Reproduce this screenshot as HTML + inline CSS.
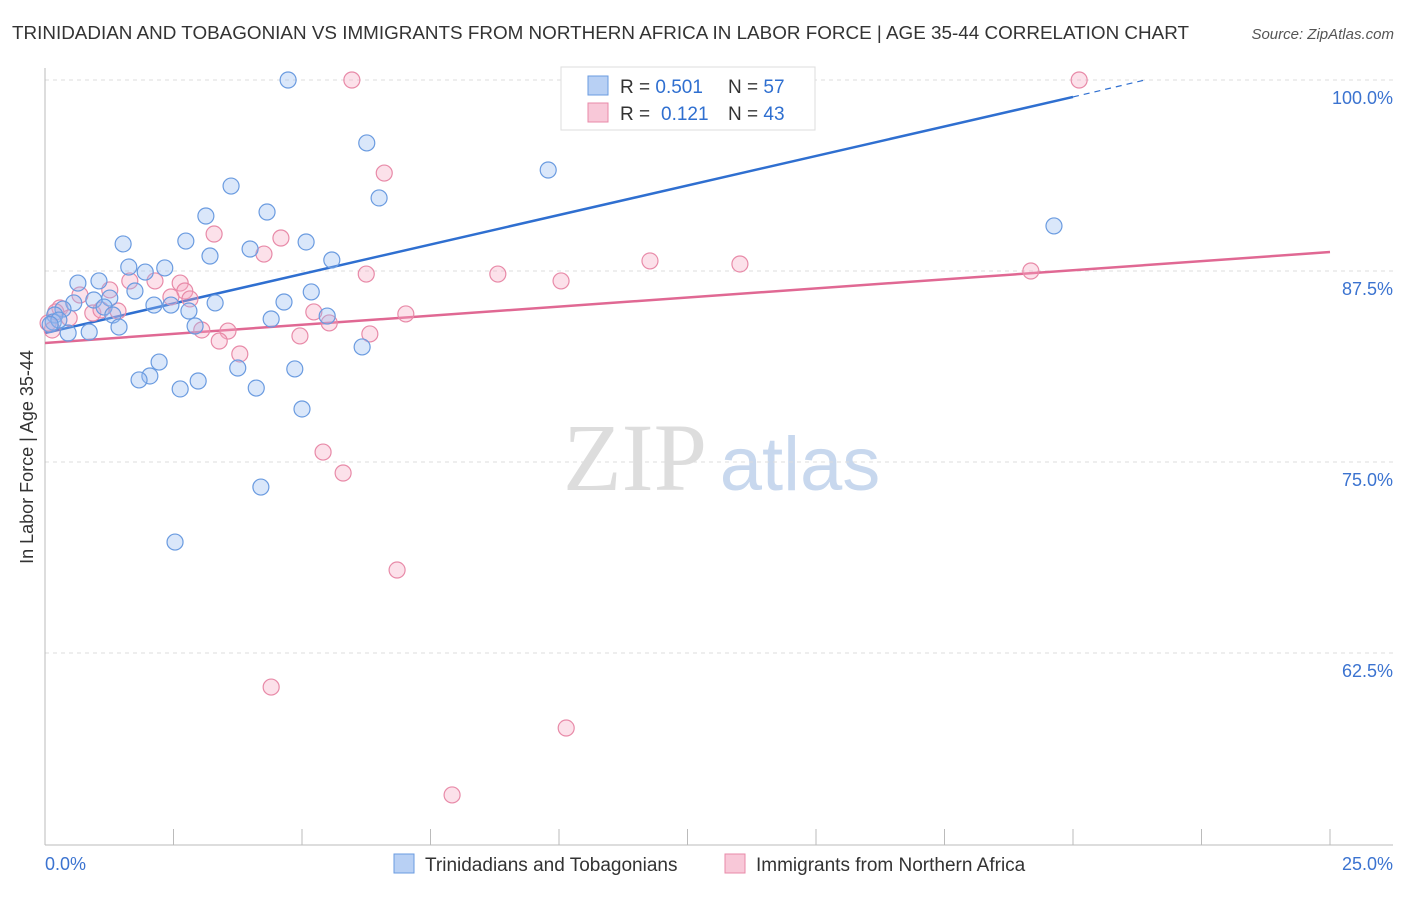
<!DOCTYPE html>
<html><head><meta charset="utf-8"><style>
body{margin:0;background:#fff;font-family:"Liberation Sans",sans-serif;}
</style></head><body>
<svg id="chart" width="1406" height="892" xmlns="http://www.w3.org/2000/svg">
<text x="12" y="39" font-size="18" fill="#333" textLength="1177" lengthAdjust="spacingAndGlyphs">TRINIDADIAN AND TOBAGONIAN VS IMMIGRANTS FROM NORTHERN AFRICA IN LABOR FORCE | AGE 35-44 CORRELATION CHART</text>
<text x="1394" y="39" font-size="15" fill="#555" font-style="italic" text-anchor="end">Source: ZipAtlas.com</text>
<text x="33" y="457" font-size="18" fill="#333" text-anchor="middle" transform="rotate(-90 33 457)">In Labor Force | Age 35-44</text>
<g><text x="635" y="490" font-size="96" fill="#ddd" font-family="Liberation Serif,serif" text-anchor="middle">ZIP</text><text x="800" y="490" font-size="76" fill="#c8d8ee" text-anchor="middle">atlas</text></g>
<g id="grid"></g><g id="axes"></g><g id="trends"></g><g id="pts"></g>
<g>
<rect x="561" y="67" width="254" height="63" fill="#fff" stroke="#ddd"/>
<rect x="588" y="76" width="20" height="19" fill="#b8d0f4" stroke="#6a9be0"/>
<text x="620" y="93" font-size="19" fill="#333">R = <tspan fill="#2f6fd0">0.501</tspan>  <tspan x="728">N = </tspan><tspan fill="#2f6fd0">57</tspan></text>
<rect x="588" y="103" width="20" height="19" fill="#f8c8d8" stroke="#e88aa8"/>
<text x="620" y="120" font-size="19" fill="#333">R = <tspan x="661" fill="#2f6fd0">0.121</tspan><tspan x="728">N = </tspan><tspan fill="#2f6fd0">43</tspan></text>
</g>
<g>
<rect x="394" y="854" width="20" height="19" fill="#b8d0f4" stroke="#6a9be0"/>
<text x="425" y="871" font-size="19" fill="#333">Trinidadians and Tobagonians</text>
<rect x="725" y="854" width="20" height="19" fill="#f8c8d8" stroke="#e88aa8"/>
<text x="756" y="871" font-size="19" fill="#333">Immigrants from Northern Africa</text>
</g>
</svg>
<script>
const yTicks=[100,87.5,75,62.5];
const yTickLabels=["100.0%","87.5%","75.0%","62.5%"];
const xTicks=[0,2.5,5,7.5,10,12.5,15,17.5,20,22.5,25];
const blueX=[4.73,6.26,6.50,9.79,3.62,3.13,4.32,2.74,1.52,3.99,5.08,3.21,5.58,1.63,1.95,2.33,0.64,1.05,1.26,1.75,0.95,0.56,0.35,0.19,0.16,0.27,0.45,0.86,1.15,1.32,1.44,2.12,2.45,2.80,3.31,2.92,4.65,5.18,4.40,5.49,6.17,2.22,2.04,1.83,2.63,2.98,3.75,4.11,4.86,5.00,4.20,2.53,13.33,13.66,14.47,19.63,0.10];
const blueY=[100,95.88,92.28,94.11,93.06,91.10,91.36,89.46,89.27,88.94,89.40,88.48,88.22,87.76,87.43,87.70,86.71,86.85,85.73,86.19,85.60,85.41,85.01,84.62,84.16,84.29,83.44,83.51,85.14,84.62,83.83,85.27,85.27,84.88,85.41,83.90,85.47,86.13,84.36,84.55,82.53,81.54,80.63,80.37,79.78,80.30,81.15,79.84,81.09,78.47,73.36,69.76,98.23,100,100,90.45,84.0];
const pinkX=[5.97,20.12,6.60,3.29,4.59,4.26,6.25,8.81,10.04,11.77,13.52,19.18,1.65,2.14,2.63,1.26,2.72,0.68,2.45,2.82,0.29,0.93,1.42,1.09,0.21,0.47,0.06,0.14,3.05,3.56,3.39,4.96,5.23,5.53,6.32,7.02,3.79,5.41,5.80,6.85,4.40,10.14,7.92];
const pinkY=[100,100,93.91,89.92,89.66,88.61,87.30,87.30,86.85,88.16,87.96,87.50,86.85,86.85,86.71,86.26,86.19,85.93,85.80,85.67,85.08,84.75,84.88,84.95,84.82,84.42,84.10,83.64,83.64,83.57,82.92,83.25,84.82,84.10,83.38,84.69,82.07,75.65,74.28,67.93,60.27,57.59,53.21];
const blueTrend=[[0,83.44],[20.0,98.89],[21.4,100]];
const pinkTrend=[[0,82.79],[25,88.74]];
const X=v=>45+v/25*1285, Y=v=>80+(100-v)/12.5*191;
const NS="http://www.w3.org/2000/svg";
function mk(p,t,a){const e=document.createElementNS(NS,t);for(const k in a)e.setAttribute(k,a[k]);p.appendChild(e);return e;}
const grid=document.getElementById('grid'),axes=document.getElementById('axes'),tr=document.getElementById('trends'),pts=document.getElementById('pts');
yTicks.forEach((v,i)=>{
 const l=mk(grid,'line',{x1:45,x2:1393,y1:Y(v),y2:Y(v),stroke:'#ddd','stroke-dasharray':'4,4'});
 
 
 const t=mk(axes,'text',{x:1393,y:Y(v)+24,'font-size':18,fill:'#3b73d0','text-anchor':'end'});t.textContent=yTickLabels[i];
 
 
});
const ax=mk(axes,'line',{x1:45,x2:45,y1:68,y2:845,stroke:'#bbb'});


const bx=mk(axes,'line',{x1:45,x2:1393,y1:845,y2:845,stroke:'#bbb'});


xTicks.forEach(v=>{const t=mk(axes,'line',{x1:X(v),x2:X(v),y1:829,y2:845,stroke:'#bbb'});
 
 });
const x0=mk(axes,'text',{x:45,y:870,'font-size':18,fill:'#3b73d0'});x0.textContent='0.0%';


const x1=mk(axes,'text',{x:1393,y:870,'font-size':18,fill:'#3b73d0','text-anchor':'end'});x1.textContent='25.0%';


function dots(xs,ys,stroke,fill,name){xs.forEach((x,i)=>{const c=mk(pts,'circle',{cx:X(x),cy:Y(ys[i]),r:8,fill:fill,stroke:stroke,'stroke-width':1.2});
 
 });}
dots(pinkX,pinkY,'#e88aa8','rgba(245,170,195,0.35)','pink-point');
dots(blueX,blueY,'#6a9be0','rgba(150,185,240,0.35)','blue-point');
const bl=mk(tr,'line',{x1:X(blueTrend[0][0]),y1:Y(blueTrend[0][1]),x2:X(blueTrend[1][0]),y2:Y(blueTrend[1][1]),stroke:'#2f6fd0','stroke-width':2.5});


const bd=mk(tr,'line',{x1:X(blueTrend[1][0]),y1:Y(blueTrend[1][1]),x2:X(blueTrend[2][0]),y2:Y(blueTrend[2][1]),stroke:'#2f6fd0','stroke-width':1.2,'stroke-dasharray':'6,5'});


const pl=mk(tr,'line',{x1:X(pinkTrend[0][0]),y1:Y(pinkTrend[0][1]),x2:X(pinkTrend[1][0]),y2:Y(pinkTrend[1][1]),stroke:'#e06893','stroke-width':2.5});


</script>
</body></html>
